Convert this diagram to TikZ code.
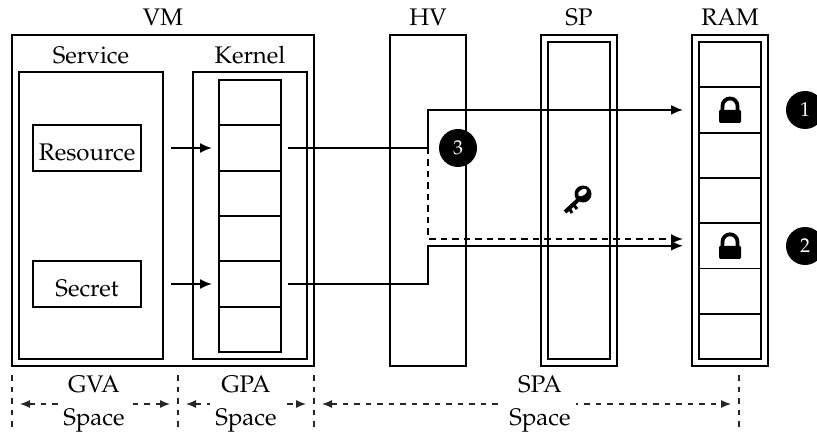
\documentclass[tikz,border=0pt]{standalone}
\usepackage[T1]{fontenc}
\renewcommand{\rmdefault}{ppl}
\usetikzlibrary{arrows.meta}
\tikzset{
  every node/.style={font=\fontsize{9.6}{11.5}\selectfont},
  box/.style={draw, line width=0.75pt, outer sep=0pt, inner sep=0pt},
  cell/.style={box, minimum width=24.8pt, minimum height=18.12pt},
  textbox/.style={box, minimum width=43.2pt, minimum height=18.4pt, text height=10pt, text depth=0pt},
  arr/.style={line width=0.75pt, -{Latex[length=4.8pt,width=4pt]}},
  leak/.style={arr, dash pattern=on 2.6pt off 2pt},
  guide/.style={line width=0.5pt, black!85, dash pattern=on 2.2pt off 2.4pt},
  span/.style={guide, {Latex[length=4pt,width=3.2pt]}-{Latex[length=4pt,width=3.2pt]}, shorten <=3.2pt, shorten >=3.2pt},
  badge/.style={circle, fill=black, text=white, minimum size=15.2pt, inner sep=0pt, font=\footnotesize},
  spacelabel/.style={fill=white, align=center, inner sep=2pt},
  lockicon/.pic={
    \fill[rounded corners=0.5pt] (-11,0) rectangle (11,13);
    \draw[line width=1.5pt] (-7.5,1) -- (-7.5,-4) arc[start angle=180,end angle=360,radius=7.5] -- (7.5,1);
  },
  keyicon/.pic={
    \fill (5,-6) circle[radius=8.5];
    \fill[white] (4.5,-7.5) ellipse[x radius=5, y radius=3, rotate=35];
    \draw[line width=1.6pt] (0,0) -- (-13,12);
    \draw[line width=1.2pt] (-9,8) -- (-6,13) (-5,4) -- (-1,9);
  }
}
\begin{document}
\begin{tikzpicture}[x=0.4pt,y=-0.4pt]
  \useasboundingbox (0,0) rectangle (817,432);
  % guest side
  \node[box, minimum width=120.8pt, minimum height=132.4pt] (vm) at (163,200.5) {};
  \node[box, minimum width=57.6pt, minimum height=114.8pt] (service) at (91,215.5) {};
  \node[box, minimum width=45.6pt, minimum height=114.8pt] (kernel) at (250,215.5) {};
  \node (vmlabel) at (163,17) {VM};
  \node (servicelabel) at (91,55) {Service};
  \node (kernellabel) at (250,55) {Kernel};
  \node[textbox] (resource) at (87,148) {Resource};
  \node[textbox] (secret) at (87,284) {Secret};
  \foreach \i in {1,...,6}
    \node[cell] (k\i) at (250,{80+45.33*(\i-0.5)}) {};
  % host side
  \node[box, minimum width=30.4pt, minimum height=132.4pt] (hv) at (428,200.5) {};
  \node[box, minimum width=30.4pt, minimum height=132.4pt] (sp) at (579,200.5) {};
  \node[box, minimum width=24.8pt, minimum height=126.8pt] (spinner) at (579,200.5) {};
  \node[box, minimum width=30.4pt, minimum height=132.4pt] (ram) at (730,200.5) {};
  \foreach \i in {1,...,7}
    \node[cell] (r\i) at (730,{42+45.29*(\i-0.5)}) {};
  \node (hvlabel) at (428,17) {HV};
  \node (splabel) at (579,17) {SP};
  \node (ramlabel) at (730,17) {RAM};
  \pic at (r2.center) {lockicon};
  \pic at (r5.center) {lockicon};
  \pic at (578,200) {keyicon};
  % mappings
  \coordinate (jogtop) at (k2.east -| hv.center);
  \coordinate (jogbot) at (k5.east -| hv.center);
  \coordinate (leakend) at (683,239);
  \draw[arr, shorten <=12pt, shorten >=2.8pt] (resource.east) -- (k2.west);
  \draw[arr, shorten <=12pt, shorten >=2.8pt] (secret.east) -- (k5.west);
  \draw[arr, shorten >=6.4pt] (k2.east) ++(7,0) -- (jogtop) |- (r2.west);
  \draw[arr, shorten >=6.4pt] (k5.east) ++(7,0) -- (jogbot) |- (r5.west);
  \draw[leak] (jogtop) |- (leakend);
  \node[badge] (three) at (458,148) {3};
  \node[badge] (one) at (805,110) {1};
  \node[badge] (two) at (805,246) {2};
  % address spaces
  \foreach \n/\x in {a/12,b/178,c/314,d/739} {
    \coordinate (top\n) at (\x,375);
    \coordinate (mid\n) at (\x,404);
    \coordinate (bot\n) at (\x,432);
    \draw[guide] (top\n) -- (bot\n);
  }
  \draw[span] (mida) -- (midb);
  \draw[span] (midb) -- (midc);
  \draw[span] (midc) -- (midd);
  \node[spacelabel] (gva) at (94,404) {GVA\\[2pt]Space};
  \node[spacelabel] (gpa) at (246,404) {GPA\\[2pt]Space};
  \node[spacelabel] (spa) at (540,404) {SPA\\[2pt]Space};
\end{tikzpicture}
\end{document}
